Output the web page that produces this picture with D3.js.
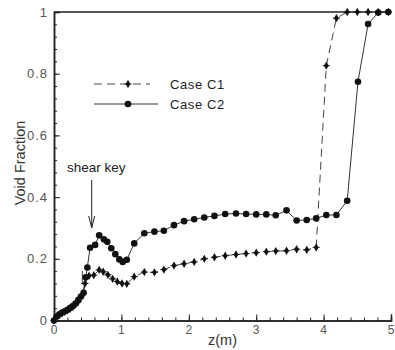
<!DOCTYPE html>
<html>
<head>
<meta charset="utf-8">
<script src="https://cdn.jsdelivr.net/npm/d3@7"></script>
<style>
  html, body { margin: 0; padding: 0; background: #fff; }
  svg { display: block; }
</style>
</head>
<body>
<div id="chart"></div>
<script>
// values
const zC1 = [0, 0.04, 0.08, 0.12, 0.16, 0.2, 0.24, 0.28, 0.32, 0.36, 0.40, 0.46, 0.52, 0.59, 0.67, 0.73, 0.80, 0.87, 0.94, 1.01, 1.08, 1.19, 1.34, 1.49, 1.63, 1.78, 1.93, 2.08, 2.23, 2.38, 2.54, 2.70, 2.85, 3.0, 3.15, 3.29, 3.45, 3.60, 3.75, 3.89, 4.04, 4.19, 4.35, 4.50, 4.66, 4.81, 4.96]
const vC1 = [0, 0.012, 0.018, 0.024, 0.028, 0.033, 0.038, 0.044, 0.052, 0.062, 0.078, 0.12, 0.145, 0.147, 0.164, 0.158, 0.148, 0.135, 0.126, 0.12, 0.119, 0.142, 0.157, 0.156, 0.165, 0.178, 0.184, 0.19, 0.2, 0.205, 0.21, 0.214, 0.217, 0.22, 0.223, 0.225, 0.226, 0.231, 0.229, 0.237, 0.826, 0.98, 1, 1, 1, 1, 1]

// thin vertical glitch in the C1 trace near the shear key
const zSpike = [0.42, 0.42]
const vSpike = [0.117, 0.16]

const zC2 = [0, 0.04, 0.08, 0.12, 0.16, 0.2, 0.24, 0.28, 0.32, 0.36, 0.40, 0.44, 0.47, 0.495, 0.535, 0.61, 0.67, 0.74, 0.79, 0.85, 0.91, 0.97, 1.02, 1.08, 1.19, 1.34, 1.49, 1.63, 1.78, 1.93, 2.08, 2.23, 2.38, 2.54, 2.70, 2.85, 3.0, 3.15, 3.29, 3.45, 3.60, 3.75, 3.89, 4.04, 4.19, 4.35, 4.51, 4.66, 4.81, 4.96]
const vC2 = [0, 0.013, 0.02, 0.026, 0.03, 0.035, 0.041, 0.047, 0.055, 0.066, 0.078, 0.09, 0.14, 0.172, 0.236, 0.245, 0.276, 0.263, 0.255, 0.234, 0.215, 0.198, 0.19, 0.197, 0.25, 0.283, 0.288, 0.291, 0.309, 0.322, 0.328, 0.334, 0.339, 0.345, 0.347, 0.345, 0.344, 0.344, 0.341, 0.357, 0.324, 0.326, 0.331, 0.342, 0.342, 0.388, 0.774, 0.961, 0.998, 1]

const xTicks = [0, 1, 2, 3, 4, 5]
const yTicks = [0, 0.2, 0.4, 0.6, 0.8, 1]
const seriesNames = ['Case C1', 'Case C2']

const width = 395
const height = 350
const margin = { top: 12, right: 4, bottom: 29.5, left: 54 }

const svg = d3.select('#chart')
  .append('svg')
  .attr('width', width)
  .attr('height', height)
  .style('font-family', 'Arial, "Liberation Sans", sans-serif')

const x = d3.scaleLinear().domain([0, 5]).range([margin.left, width - margin.right])
const y = d3.scaleLinear().domain([0, 1]).range([height - margin.bottom, margin.top])

const ink = '#222'
const tickColor = '#555'

// frame top line
svg.append('line')
  .attr('x1', x(0)).attr('x2', x(5))
  .attr('y1', y(1)).attr('y2', y(1))
  .attr('stroke', ink).attr('stroke-width', 1.5)

// x axis, ticks pointing inward
const xAxis = svg.append('g').attr('transform', `translate(0,${y(0)})`)
xAxis.call(d3.axisTop(x).tickValues(d3.range(0, 5.001, 0.2)).tickSize(3).tickFormat(''))
xAxis.append('g').call(d3.axisTop(x).tickValues(xTicks).tickSize(6).tickFormat(''))
xAxis.selectAll('.domain').attr('stroke', ink).attr('stroke-width', 1.5)
xAxis.selectAll('line').attr('stroke', ink)
xTicks.forEach(t => {
  xAxis.append('text')
    .attr('x', x(t)).attr('y', 13)
    .attr('text-anchor', 'middle')
    .attr('font-size', 12)
    .attr('fill', tickColor)
    .text(d3.format('d')(t))
})

// y axis, ticks pointing inward
const yAxis = svg.append('g').attr('transform', `translate(${x(0)},0)`)
yAxis.call(d3.axisRight(y).tickValues(d3.range(0, 1.001, 0.04)).tickSize(3).tickFormat(''))
yAxis.append('g').call(d3.axisRight(y).tickValues(yTicks).tickSize(6).tickFormat(''))
yAxis.selectAll('.domain').attr('stroke', ink).attr('stroke-width', 1.5)
yAxis.selectAll('line').attr('stroke', ink)
yTicks.forEach(t => {
  yAxis.append('text')
    .attr('x', -6).attr('y', y(t) + 4.5)
    .attr('text-anchor', 'end')
    .attr('font-size', 13)
    .attr('letter-spacing', 1)
    .attr('fill', tickColor)
    .text(t === 0 || t === 1 ? String(t) : d3.format('.1f')(t))
})

// axis titles
svg.append('text')
  .attr('x', x(2.5)).attr('y', 345)
  .attr('text-anchor', 'middle')
  .attr('font-size', 14.5)
  .attr('fill', '#333')
  .text('z(m)')

svg.append('text')
  .attr('transform', `translate(25,${163}) rotate(-90)`)
  .attr('text-anchor', 'middle')
  .attr('font-size', 14.5)
  .attr('fill', '#333')
  .text('Void Fraction')

// series
const c1 = zC1.map((z, i) => [z, vC1[i]])
const c2 = zC2.map((z, i) => [z, vC2[i]])
const spike = zSpike.map((z, i) => [z, vSpike[i]])
const line = d3.line().x(d => x(d[0])).y(d => y(d[1]))

svg.append('path')
  .datum(c1)
  .attr('d', line)
  .attr('fill', 'none')
  .attr('stroke', '#444')
  .attr('stroke-width', 1)
  .attr('stroke-dasharray', '8,5')

svg.append('path')
  .datum(spike)
  .attr('d', line)
  .attr('fill', 'none')
  .attr('stroke', '#444')
  .attr('stroke-width', 1)

svg.append('path')
  .datum(c2)
  .attr('d', line)
  .attr('fill', 'none')
  .attr('stroke', '#333')
  .attr('stroke-width', 1)

const diamond = d3.symbol().type(d3.symbolDiamond).size(20)

const drawC1Marker = (g, px, py) => {
  g.append('path')
    .attr('transform', `translate(${px},${py})`)
    .attr('d', diamond())
    .attr('fill', '#111')
  g.append('line')
    .attr('x1', px - 3.5).attr('x2', px + 3.5)
    .attr('y1', py).attr('y2', py)
    .attr('stroke', '#111').attr('stroke-width', 1)
}

const drawC2Marker = (g, px, py) => {
  g.append('circle')
    .attr('cx', px).attr('cy', py)
    .attr('r', 3.3)
    .attr('fill', '#111')
}

const marks = svg.append('g')
c1.forEach(d => drawC1Marker(marks, x(d[0]), y(d[1])))
c2.forEach(d => drawC2Marker(marks, x(d[0]), y(d[1])))

// legend
const legend = svg.append('g')
legend.append('line')
  .attr('x1', 94).attr('x2', 150).attr('y1', 84).attr('y2', 84)
  .attr('stroke', '#444').attr('stroke-dasharray', '8,5')
drawC1Marker(legend, 128, 84)
legend.append('line')
  .attr('x1', 94).attr('x2', 158).attr('y1', 104).attr('y2', 104)
  .attr('stroke', '#333')
drawC2Marker(legend, 128, 104)
seriesNames.forEach((name, i) => {
  legend.append('text')
    .attr('x', 170).attr('y', 88.5 + i * 20)
    .attr('font-size', 13)
    .attr('letter-spacing', 0.6)
    .attr('fill', '#222')
    .text(name)
})

// shear key annotation
svg.append('text')
  .attr('x', 67).attr('y', 172)
  .attr('font-size', 13.5)
  .attr('fill', '#222')
  .text('shear key')

const ax = 91.7
svg.append('line')
  .attr('x1', ax).attr('x2', ax).attr('y1', 180).attr('y2', 228)
  .attr('stroke', '#222').attr('stroke-width', 1)
svg.append('path')
  .attr('d', `M${ax - 3},216 L${ax},228 L${ax + 3},216`)
  .attr('fill', 'none')
  .attr('stroke', '#222')
  .attr('stroke-width', 1)
</script>
</body>
</html>
